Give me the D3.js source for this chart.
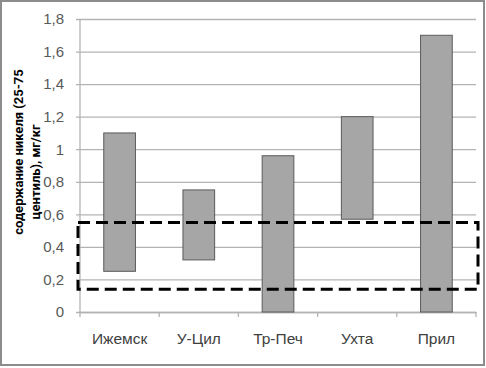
<!DOCTYPE html>
<html>
<head>
<meta charset="utf-8">
<script src="https://cdn.jsdelivr.net/npm/d3@7"></script>
<style>
  body { margin: 0; background: #fff; }
  svg { display: block; font-family: Roboto, "Open Sans", sans-serif; }
</style>
</head>
<body>
<svg id="chart"></svg>
<script>
const WIDTH = 486;
const HEIGHT = 368;

const categories = ["Ижемск", "У-Цил", "Тр-Печ", "Ухта", "Прил"];
const lowValues = [0.25, 0.32, 0, 0.57, 0];
const highValues = [1.1, 0.75, 0.96, 1.2, 1.7];
const yTicks = [0, 0.2, 0.4, 0.6, 0.8, 1, 1.2, 1.4, 1.6, 1.8];
const normRange = [0.14, 0.55];
const titleLines = ["содержание никеля (25-75", "центиль), мг/кг"];

const margin = { left: 80, right: 10, top: 19, bottom: 56 };

window.addEventListener("load", () => {
  const svg = d3.select("#chart").attr("width", WIDTH).attr("height", HEIGHT);

  svg.append("rect")
    .attr("x", 1).attr("y", 1).attr("width", WIDTH - 3).attr("height", HEIGHT - 4)
    .attr("fill", "#fff").attr("stroke", "#8c8c8c").attr("stroke-width", 2);

  const x = d3.scaleBand().domain(categories)
    .range([margin.left, WIDTH - margin.right]).paddingInner(0.6).paddingOuter(0.3);
  const xOuter = d3.scaleBand().domain(categories)
    .range([margin.left, WIDTH - margin.right]);
  const y = d3.scaleLinear().domain([0, 1.8])
    .range([HEIGHT - margin.bottom, margin.top]);

  const fmt = d => String(d).replace(".", ",");

  // gridlines + y axis
  const yAxis = svg.append("g")
    .attr("transform", `translate(${margin.left},0)`)
    .call(d3.axisLeft(y).tickValues(yTicks).tickFormat(fmt)
      .tickSize(-(WIDTH - margin.left - margin.right)).tickPadding(16));
  yAxis.select(".domain").remove();
  yAxis.selectAll(".tick line").attr("stroke", "#b3b3b3").attr("stroke-width", 1.3)
    .attr("x1", -4);
  yAxis.selectAll(".tick text").attr("fill", "#595959")
    .style("font-size", "15px");

  svg.append("line")
    .attr("x1", margin.left).attr("x2", margin.left)
    .attr("y1", margin.top).attr("y2", y(0))
    .attr("stroke", "#b3b3b3").attr("stroke-width", 1.3);

  // x axis
  const xAxis = svg.append("g")
    .attr("transform", `translate(0,${y(0)})`)
    .call(d3.axisBottom(x).tickSize(0).tickPadding(21));
  xAxis.select(".domain").attr("stroke", "#b3b3b3").attr("stroke-width", 1.3);
  xAxis.selectAll(".tick text").attr("fill", "#404040").style("font-size", "15.5px");

  const bounds = categories.map(c => xOuter(c)).concat([WIDTH - margin.right]);
  svg.append("g").selectAll("line").data(bounds).enter()
    .append("line")
    .attr("x1", d => d).attr("x2", d => d)
    .attr("y1", y(0)).attr("y2", y(0) + 5)
    .attr("stroke", "#b3b3b3").attr("stroke-width", 1.3);

  // floating bars
  svg.append("g").selectAll("rect").data(categories).enter()
    .append("rect")
    .attr("x", d => x(d))
    .attr("width", x.bandwidth())
    .attr("y", (d, i) => y(highValues[i]))
    .attr("height", (d, i) => y(lowValues[i]) - y(highValues[i]))
    .attr("fill", "#a6a6a6").attr("stroke", "#5a5a5a").attr("stroke-width", 1);

  // dashed norm box
  svg.append("rect")
    .attr("x", margin.left - 2)
    .attr("width", WIDTH - margin.left - margin.right + 4)
    .attr("y", y(normRange[1]))
    .attr("height", y(normRange[0]) - y(normRange[1]))
    .attr("fill", "none").attr("stroke", "#000").attr("stroke-width", 3)
    .attr("stroke-dasharray", "12,6");

  // y title
  const titleX = [18, 35];
  const titleY = [152, 172];
  titleLines.forEach((t, i) => {
    svg.append("text")
      .attr("transform", `translate(${titleX[i]},${titleY[i]}) rotate(-90)`)
      .attr("text-anchor", "middle").attr("dominant-baseline", "central")
      .attr("font-weight", "bold").attr("font-size", "13px").attr("fill", "#000")
      .text(t);
  });
});
</script>
</body>
</html>
